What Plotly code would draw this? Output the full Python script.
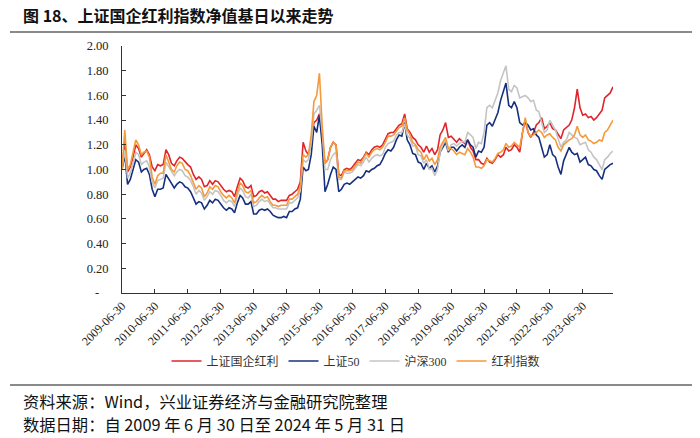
import pandas as pd
import plotly.graph_objects as go

# ---------------- data (monthly) ----------------
start_date = "2009-06-30"
end_date = "2024-05-31"
dates = pd.date_range(start_date, end_date, freq=pd.offsets.MonthEnd())

soe_dividend = [  # 上证国企红利
    1.00, 1.22, 0.98, 1.02, 1.10, 1.20, 1.17,
    1.10, 1.13, 1.16, 1.12, 1.02, 0.99, 1.04, 1.03, 1.04, 1.16, 1.12, 1.05,
    1.03, 1.07, 1.10, 1.09, 1.06, 1.04, 1.02, 0.96, 0.92, 0.94, 0.92, 0.86,
    0.87, 0.91, 0.88, 0.91, 0.90, 0.87, 0.84, 0.82, 0.83, 0.82, 0.78, 0.86,
    0.93, 0.91, 0.86, 0.85, 0.87, 0.78, 0.79, 0.82, 0.83, 0.81, 0.82, 0.79,
    0.76, 0.76, 0.74, 0.75, 0.75, 0.75, 0.79, 0.80, 0.82, 0.84, 0.90, 1.22,
    1.15, 1.12, 1.22, 1.38, 1.40, 1.45, 1.25, 1.05, 1.08, 1.18, 1.22, 1.20,
    0.96, 0.95, 1.00, 1.01, 1.00, 1.02, 1.05, 1.08, 1.07, 1.10, 1.14, 1.12,
    1.16, 1.18, 1.19, 1.18, 1.20, 1.24, 1.29, 1.30, 1.30, 1.33, 1.36, 1.37,
    1.45, 1.33, 1.30, 1.26, 1.24, 1.20, 1.18, 1.14, 1.19, 1.14, 1.17, 1.12,
    1.16, 1.28, 1.32, 1.38, 1.26, 1.27, 1.24, 1.22, 1.25, 1.23, 1.21, 1.24,
    1.18, 1.15, 1.08, 1.08, 1.05, 1.04, 1.09, 1.06, 1.05, 1.08, 1.12, 1.10,
    1.12, 1.18, 1.15, 1.16, 1.20, 1.18, 1.14, 1.30, 1.40, 1.30, 1.26, 1.30,
    1.36, 1.38, 1.42, 1.33, 1.35, 1.38, 1.33, 1.32, 1.28, 1.25, 1.32, 1.34,
    1.36, 1.40, 1.50, 1.65, 1.50, 1.44, 1.45, 1.42, 1.43, 1.40, 1.42, 1.45,
    1.48, 1.58, 1.60, 1.62, 1.67,
]

sse50 = [  # 上证50
    1.00, 1.12, 0.88, 0.92, 1.00, 1.08, 1.06,
    0.98, 1.00, 1.01, 0.96, 0.84, 0.78, 0.84, 0.84, 0.85, 0.96, 0.92, 0.88,
    0.85, 0.88, 0.90, 0.89, 0.86, 0.85, 0.82, 0.77, 0.72, 0.74, 0.73, 0.68,
    0.71, 0.75, 0.73, 0.76, 0.75, 0.72, 0.69, 0.67, 0.69, 0.68, 0.65, 0.73,
    0.79, 0.77, 0.72, 0.72, 0.74, 0.64, 0.64, 0.67, 0.68, 0.67, 0.68, 0.66,
    0.63, 0.62, 0.61, 0.61, 0.62, 0.61, 0.66, 0.66, 0.68, 0.69, 0.76, 1.02,
    0.99, 1.00, 1.12, 1.35, 1.30, 1.44, 1.20, 0.82, 0.88, 0.96, 1.02, 1.00,
    0.82, 0.84, 0.88, 0.89, 0.88, 0.90, 0.92, 0.94, 0.93, 0.95, 0.99, 0.98,
    1.00, 1.01, 1.03, 1.04, 1.08, 1.13, 1.16, 1.15, 1.18, 1.24, 1.28, 1.27,
    1.38, 1.24, 1.20, 1.13, 1.12, 1.06, 1.05, 1.00, 1.05, 1.01, 1.03, 0.98,
    1.03, 1.14, 1.18, 1.22, 1.14, 1.18, 1.18, 1.15, 1.18, 1.20, 1.18, 1.24,
    1.20, 1.18, 1.10, 1.15, 1.14, 1.18, 1.36, 1.38, 1.35, 1.40, 1.46, 1.56,
    1.64, 1.70, 1.52, 1.50, 1.55, 1.50, 1.38, 1.36, 1.38, 1.36, 1.32, 1.33,
    1.28, 1.26, 1.18, 1.10, 1.12, 1.20, 1.12, 1.10, 1.02, 0.96, 1.07, 1.12,
    1.18, 1.14, 1.12, 1.13, 1.06, 1.08, 1.10, 1.04, 1.03, 1.00, 0.99, 0.95,
    0.92, 1.00, 1.02, 1.04, 1.05,
]

csi300 = [  # 沪深300
    1.00, 1.16, 0.93, 0.97, 1.05, 1.14, 1.12,
    1.04, 1.06, 1.07, 1.02, 0.90, 0.85, 0.91, 0.92, 0.93, 1.06, 1.02, 0.98,
    0.95, 0.98, 1.00, 0.99, 0.95, 0.94, 0.91, 0.86, 0.80, 0.83, 0.81, 0.75,
    0.78, 0.82, 0.80, 0.83, 0.82, 0.79, 0.75, 0.73, 0.75, 0.74, 0.70, 0.79,
    0.85, 0.83, 0.78, 0.77, 0.80, 0.70, 0.71, 0.74, 0.76, 0.74, 0.75, 0.72,
    0.69, 0.69, 0.68, 0.68, 0.68, 0.68, 0.73, 0.73, 0.75, 0.77, 0.83, 1.08,
    1.06, 1.08, 1.22, 1.45, 1.48, 1.52, 1.30, 1.00, 1.00, 1.08, 1.12, 1.14,
    0.92, 0.92, 0.98, 0.97, 0.97, 0.98, 1.01, 1.04, 1.03, 1.06, 1.10, 1.06,
    1.09, 1.11, 1.12, 1.11, 1.12, 1.18, 1.21, 1.22, 1.23, 1.28, 1.30, 1.30,
    1.37, 1.28, 1.25, 1.19, 1.19, 1.12, 1.11, 1.05, 1.08, 1.00, 1.01, 0.95,
    1.00, 1.14, 1.20, 1.24, 1.15, 1.20, 1.21, 1.19, 1.21, 1.23, 1.22, 1.30,
    1.28, 1.26, 1.17, 1.22, 1.21, 1.30, 1.50, 1.52, 1.50, 1.56, 1.62, 1.72,
    1.78, 1.84, 1.65, 1.63, 1.68, 1.66, 1.58, 1.59, 1.60, 1.58, 1.55, 1.56,
    1.48, 1.47, 1.38, 1.30, 1.32, 1.40, 1.36, 1.32, 1.25, 1.18, 1.22, 1.24,
    1.30, 1.28, 1.26, 1.25, 1.20, 1.21, 1.22, 1.16, 1.14, 1.10, 1.08, 1.04,
    1.00, 1.08, 1.10, 1.13, 1.15,
]

dividend_index = [  # 红利指数
    1.00, 1.32, 1.00, 1.04, 1.14, 1.24, 1.20,
    1.12, 1.14, 1.15, 1.10, 0.94, 0.88, 0.95, 0.97, 0.97, 1.12, 1.06, 1.00,
    0.98, 1.03, 1.06, 1.05, 1.00, 0.99, 0.95, 0.90, 0.84, 0.87, 0.85, 0.78,
    0.81, 0.86, 0.84, 0.87, 0.86, 0.82, 0.79, 0.77, 0.79, 0.77, 0.73, 0.82,
    0.89, 0.87, 0.82, 0.81, 0.83, 0.73, 0.74, 0.77, 0.79, 0.77, 0.78, 0.74,
    0.71, 0.71, 0.70, 0.71, 0.71, 0.71, 0.76, 0.76, 0.78, 0.80, 0.86, 1.12,
    1.10, 1.12, 1.28, 1.55, 1.60, 1.78, 1.35, 1.05, 1.08, 1.18, 1.22, 1.20,
    0.94, 0.93, 0.99, 0.99, 0.99, 1.00, 1.03, 1.06, 1.05, 1.09, 1.13, 1.10,
    1.14, 1.16, 1.17, 1.16, 1.18, 1.22, 1.27, 1.27, 1.28, 1.31, 1.34, 1.35,
    1.42, 1.32, 1.28, 1.22, 1.20, 1.16, 1.14, 1.08, 1.12, 1.07, 1.09, 1.04,
    1.08, 1.18, 1.22, 1.26, 1.17, 1.17, 1.15, 1.12, 1.14, 1.13, 1.12, 1.17,
    1.14, 1.10, 1.02, 1.02, 1.01, 1.03, 1.08, 1.07, 1.06, 1.09, 1.13, 1.14,
    1.16, 1.21, 1.18, 1.19, 1.22, 1.20, 1.18, 1.30, 1.42, 1.30, 1.27, 1.28,
    1.30, 1.32, 1.30, 1.26, 1.28, 1.29, 1.26, 1.24, 1.18, 1.15, 1.20, 1.22,
    1.24, 1.25, 1.28, 1.35, 1.28, 1.26, 1.28, 1.24, 1.23, 1.21, 1.22, 1.24,
    1.23, 1.30, 1.32, 1.36, 1.40,
]

series_names = ["上证国企红利", "上证50", "沪深300", "红利指数"]
x_tick_dates = [f"{y}-06-30" for y in range(2009, 2024)]
y_tick_vals = [0, 0.2, 0.4, 0.6, 0.8, 1.0, 1.2, 1.4, 1.6, 1.8, 2.0]
y_tick_text = ["-\u00a0\u00a0\u00a0", "0.20", "0.40", "0.60", "0.80", "1.00",
               "1.20", "1.40", "1.60", "1.80", "2.00"]

title_text = "图 18、上证国企红利指数净值基日以来走势"
source_text = "资料来源：Wind，兴业证券经济与金融研究院整理"
date_text = "数据日期：自 2009 年 6 月 30 日至 2024 年 5 月 31 日"

# ---------------- styling ----------------
colors = ["#E0242B", "#16307F", "#C4C4C4", "#F59A3A"]
FONT = "Liberation Serif, Noto Sans CJK SC, serif"
CJK = "Noto Sans CJK SC, Liberation Serif, sans-serif"

W, H = 700, 438
L, R, T, B = 122, 87, 46, 145
pw, ph = W - L - R, H - T - B


def px(x):
    return (x - L) / pw


def py(y):
    return (H - B - y) / ph


fig = go.Figure()
for name, vals, c in zip(series_names, [soe_dividend, sse50, csi300, dividend_index], colors):
    fig.add_trace(go.Scatter(x=dates, y=vals, mode="lines", name=name,
                             line=dict(color=c, width=1.6)))

fig.update_layout(
    width=W, height=H,
    margin=dict(l=L, r=R, t=T, b=B, autoexpand=False),
    paper_bgcolor="white", plot_bgcolor="white",
    font=dict(family=FONT, color="#222", size=12),
    showlegend=True,
    legend=dict(orientation="h", x=px(356), xanchor="center", y=py(361), yanchor="middle",
                font=dict(family=FONT, size=12, color="#333"), itemwidth=30,
                bgcolor="rgba(0,0,0,0)", tracegroupgap=0),
    xaxis=dict(type="date", range=[start_date, end_date], showgrid=False, zeroline=False,
               showline=True, linecolor="#333", linewidth=1,
               ticks="inside", ticklen=4, tickcolor="#333",
               tickvals=x_tick_dates, ticktext=x_tick_dates, tickangle=-45,
               tickfont=dict(family=FONT, size=12, color="#222")),
    yaxis=dict(range=[0, 2.0], showgrid=False, zeroline=False,
               showline=True, linecolor="#333", linewidth=1,
               ticks="inside", ticklen=4, tickcolor="#333",
               tickvals=y_tick_vals, ticktext=y_tick_text,
               ticklabelstandoff=10,
               tickfont=dict(family=FONT, size=12.5, color="#222")),
)

fig.add_annotation(text=f"<b>{title_text}</b>", xref="paper", yref="paper",
                   x=px(21), y=py(15), xanchor="left", yanchor="middle", showarrow=False,
                   font=dict(family=CJK, size=16, color="#111"))
fig.add_annotation(text=source_text, xref="paper", yref="paper",
                   x=px(21), y=py(401), xanchor="left", yanchor="middle", showarrow=False,
                   font=dict(family=CJK, size=16.3, color="#111"))
fig.add_annotation(text=date_text, xref="paper", yref="paper",
                   x=px(21), y=py(424), xanchor="left", yanchor="middle", showarrow=False,
                   font=dict(family=CJK, size=16.3, color="#111"))

for yy in (32, 385):
    fig.add_shape(type="line", xref="paper", yref="paper", x0=px(10), x1=px(692),
                  y0=py(yy), y1=py(yy), line=dict(color="#8a8a8a", width=2))

fig.write_html("out.html")
